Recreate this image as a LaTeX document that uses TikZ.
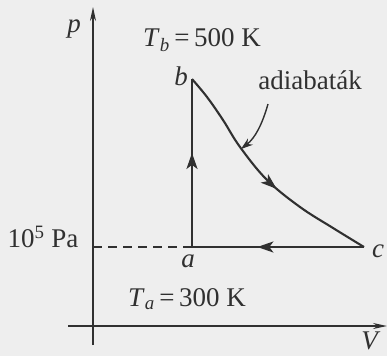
\documentclass[tikz,border=0pt]{standalone}
\usepackage{fontspec}
\setmainfont{Liberation Serif}
\usetikzlibrary{decorations.markings,arrows.meta}
\definecolor{ink}{HTML}{303030}
\definecolor{paper}{HTML}{EEEEEE}
\tikzset{
  lbl/.style={inner sep=0pt,text=ink,font=\fontsize{27}{31}\selectfont},
  axis/.style={draw=ink,line width=1.7pt,-{Stealth[length=14pt,width=6pt]}},
  proc/.style={draw=ink,line width=2.1pt},
  midarrow/.style={postaction={decorate},decoration={markings,
     mark=at position #1 with {\arrow{Stealth[length=16pt,width=11pt,inset=4pt]}}}}
}
\begin{document}
\begin{tikzpicture}[x=1pt,y=-1pt]
\fill[paper] (0,0) rectangle (387,356);
\useasboundingbox (0,0) rectangle (387,356);
% axes
\coordinate (pb) at (93,345);
\coordinate (pt) at (93,7);
\coordinate (vl) at (68,326);
\coordinate (vr) at (387,326);
\draw[axis] (pb) -- (pt);
\draw[axis] (vl) -- (vr);
% points
\coordinate (a) at (192,247);
\coordinate (b) at (192,79);
\coordinate (c) at (364,247);
\coordinate (pa) at (93,247);
\draw[ink,line width=1.5pt,dash pattern=on 9pt off 6pt] (pa) -- (a);
\draw[proc,midarrow=0.56] (a) -- (b);
\draw[proc,midarrow=0.62] (c) -- (a);
\draw[proc,midarrow=0.57,line join=round] plot[smooth,tension=0.6] coordinates
  {(192,79) (207,97) (223,120) (240,147) (267,180) (300,207) (333,228) (364,247)};
% labels
\node[lbl] (lp) at (74,29) {\textit{p}};
\node[lbl] (lTb) at (202,40) {\textit{T}\textsubscript{\textit{b}}\,=\,500 K};
\node[lbl] (lb) at (181,76) {\textit{b}};
\node[lbl] (lad) at (310,80) {adiabaták};
\node[lbl] (lpa) at (43,237) {10\textsuperscript{5} Pa};
\node[lbl] (la) at (188,261) {\textit{a}};
\node[lbl] (lc) at (378,251) {\textit{c}};
\node[lbl] (lTa) at (187,299) {\textit{T}\textsubscript{\textit{a}}\,=\,300 K};
\node[lbl] (lV) at (371,341) {\textit{V}};
% pointer
\coordinate (ps) at (268,104);
\coordinate (pe) at (241,149);
\draw[ink,line width=1.4pt,-{Stealth[length=12pt,width=8pt]}] (ps) .. controls (262,125) and (255,138) .. (pe);
\end{tikzpicture}
\end{document}
